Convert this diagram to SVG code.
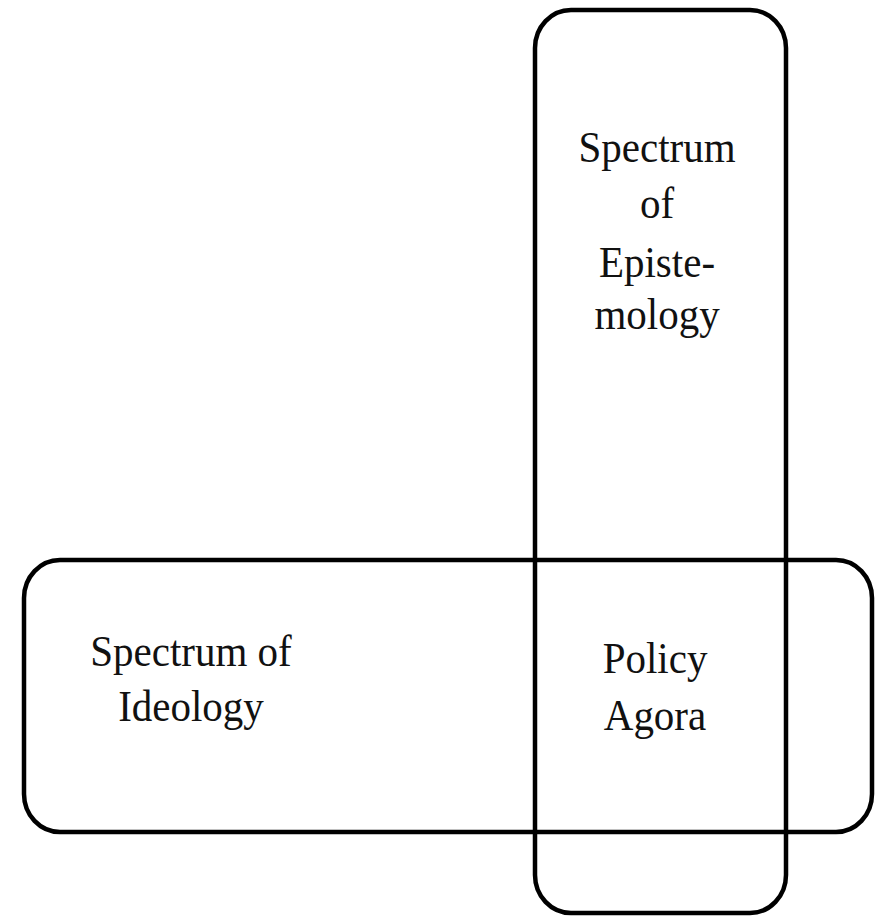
<svg xmlns="http://www.w3.org/2000/svg" width="881" height="917" viewBox="0 0 881 917">
<style>
.box{fill:none;stroke:#000;stroke-width:4.5}
.t{font-family:"Liberation Serif","Times New Roman",serif;font-size:41px;fill:#111;text-anchor:middle}
</style>
<rect width="881" height="917" fill="#fff"/>
<g id="epistemology">
<rect class="box" x="535" y="10" width="251" height="903" rx="36" ry="38"/>
<text class="t" transform="translate(657 162) scale(1 1.09)">Spectrum</text>
<text class="t" transform="translate(657 218) scale(1 1.09)">of</text>
<text class="t" transform="translate(657 277) scale(1 1.09)">Episte-</text>
<text class="t" transform="translate(657 329) scale(1 1.09)">mology</text>
</g>
<g id="ideology">
<rect class="box" x="24" y="560" width="848" height="272" rx="36" ry="38"/>
<text class="t" transform="translate(191 666) scale(1 1.09)">Spectrum of</text>
<text class="t" transform="translate(191 721) scale(1 1.09)">Ideology</text>
</g>
<g id="agora">
<text class="t" transform="translate(655 673) scale(1 1.09)">Policy</text>
<text class="t" transform="translate(655 730) scale(1 1.09)">Agora</text>
</g>
<g id="connectors"></g>
</svg>
